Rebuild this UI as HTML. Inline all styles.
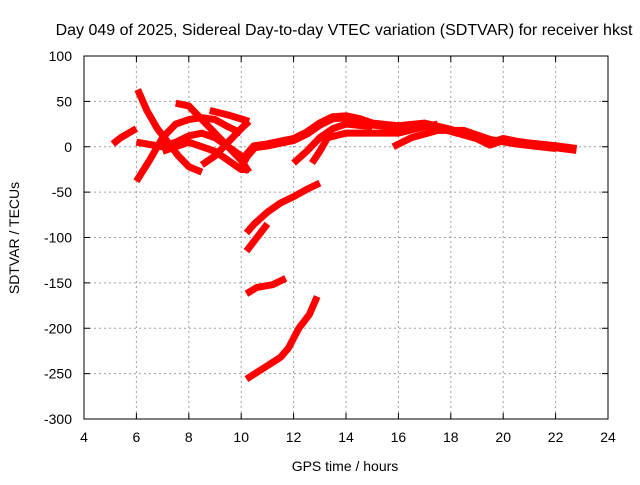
<!DOCTYPE html>
<html><head><meta charset="utf-8"><style>
body{margin:0;background:#fff}
svg text{font-family:"Liberation Sans",sans-serif;font-size:14px;fill:#000}
</style></head><body>
<svg id="c" width="640" height="480">
<rect width="640" height="480" fill="#fff"/>
<text x="344" y="35" text-anchor="middle" style="font-size:16px">Day 049 of 2025, Sidereal Day-to-day VTEC variation (SDTVAR) for receiver hkst</text>
<text x="345" y="471" text-anchor="middle">GPS time / hours</text>
<text transform="translate(19,238) rotate(-90)" text-anchor="middle">SDTVAR / TECUs</text>
<g id="grid"></g><g id="series"></g>
<rect x="84" y="56" width="524" height="363" fill="none" stroke="#000" stroke-width="1"/>
</svg>
<script>
const xTicks=[4,6,8,10,12,14,16,18,20,22,24];
const yTicks=[100,50,0,-50,-100,-150,-200,-250,-300];
const s1=[[5.1,3],[5.4,10],[5.7,15],[6.0,20]];
const s2=[[6.05,63],[6.4,40],[6.8,20],[7.2,5],[7.6,-10],[8.0,-22],[8.5,-28]];
const s3=[[6.0,-38],[6.5,-15],[7.0,10],[7.5,25],[8.0,30],[8.5,32],[9.0,30],[9.5,22],[10.0,15]];
const s4=[[7.5,48],[8.0,45],[8.5,30],[9.0,15],[9.5,0],[10.0,-10],[10.3,-15]];
const s5=[[8.8,40],[9.5,35],[10.3,28]];
const s6=[[8.5,-20],[9.0,-10],[9.5,5],[10.0,20],[10.3,28]];
const s7=[[6.0,5],[7.0,0],[7.5,5],[8.0,12],[8.5,15],[9.0,10],[9.5,0],[10.0,-15],[10.3,-28]];
const s8=[[7.0,-5],[8.0,5],[9.0,-5],[10.0,-25],[10.3,-25]];
const s9=[[10.2,-10],[10.5,0],[11,2],[11.5,5],[12,8],[12.5,15],[13,25],[13.5,32],[14,33],[14.5,30],[15,25],[16,22],[17,25],[18,18],[19,10],[19.5,3],[20,8],[20.5,5],[21,3],[22,0],[22.8,-3]];
const s10=[[12,-18],[12.5,-5],[13,10],[13.5,20],[14,25],[15,22]];
const s11=[[12.7,-18],[13,-5],[13.3,10],[14,15],[15,15],[16,15],[17,22],[17.5,25]];
const s12=[[15.8,0],[16.5,10],[17.5,18],[18.5,18],[19.5,8],[20.5,3],[22,-2]];
const s13=[[10.2,-95],[10.5,-85],[11,-72],[11.5,-62],[12,-55],[12.5,-47],[13,-40]];
const s14=[[10.2,-115],[10.6,-100],[11.0,-85]];
const s15=[[10.2,-162],[10.6,-155],[11.2,-152],[11.7,-145]];
const s16=[[10.2,-256],[10.8,-245],[11.5,-232],[11.8,-222],[12.2,-200],[12.6,-185],[12.9,-165]];
const allSeries=[s1,s2,s3,s4,s5,s6,s7,s8,s9,s10,s11,s12,s13,s14,s15,s16];
const X0=84,X1=608,Y0=419,Y1=56;
function px(x){return X0+(x-4)/(24-4)*(X1-X0);}
function py(y){return Y0-(y+300)/400*(Y0-Y1);}
const NS='http://www.w3.org/2000/svg';
const grid=document.getElementById('grid'),ser=document.getElementById('series');
function mk(tag,attrs,parent){const e=document.createElementNS(NS,tag);for(const k in attrs)e.setAttribute(k,attrs[k]);parent.appendChild(e);return e;}
xTicks.forEach(t=>{const x=px(t);
 if(t>4&&t<24){const l=mk('line',{x1:x,x2:x,y1:Y1,y2:Y0,stroke:'#a0a0a0','stroke-dasharray':'2,3'},grid);
 
 }
 mk('line',{x1:x,x2:x,y1:Y0,y2:Y0-6,stroke:'#000'},grid);mk('line',{x1:x,x2:x,y1:Y1,y2:Y1+6,stroke:'#000'},grid);
 const tx=mk('text',{x:x,y:442,'text-anchor':'middle'},grid);tx.textContent=t;
 
 });
yTicks.forEach(t=>{const y=py(t);
 if(t>-300&&t<100){const l=mk('line',{x1:X0,x2:X1,y1:y,y2:y,stroke:'#a0a0a0','stroke-dasharray':'2,3'},grid);
 
 }
 mk('line',{x1:X0,x2:X0+6,y1:y,y2:y,stroke:'#000'},grid);mk('line',{x1:X1,x2:X1-6,y1:y,y2:y,stroke:'#000'},grid);
 const tx=mk('text',{x:72,y:y+5,'text-anchor':'end'},grid);tx.textContent=t;
 
 });
allSeries.forEach((s,i)=>{const p=mk('polyline',{points:s.map(d=>px(d[0])+','+py(d[1])).join(' '),fill:'none',stroke:'#ff0000','stroke-width':(i===8?9:7),'stroke-linejoin':'round'},ser);
 
 });
</script>
</body></html>
